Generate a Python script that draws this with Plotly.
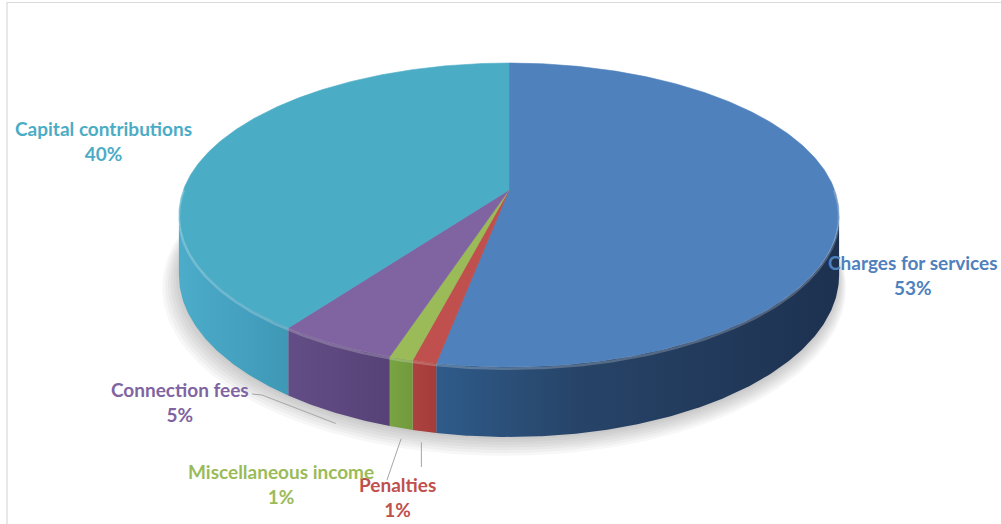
import numpy as np
import plotly.graph_objects as go

# ---- data -------------------------------------------------------------
categories = ["Charges for services", "Penalties", "Miscellaneous income",
              "Connection fees", "Capital contributions"]
shares = [53, 1, 1, 5, 40]          # percent of total revenue

top_colors = ["#4f81bd", "#c0504d", "#9bbb59", "#8064a2", "#4bacc6"]
side_scales = [
    [[0, "#2f5b8a"], [0.35, "#274468"], [1, "#1d3150"]],
    [[0, "#ad423f"], [1, "#a53c39"]],
    [[0, "#7aa343"], [1, "#719a3c"]],
    [[0, "#634d86"], [1, "#574277"]],
    [[0, "#4cacca"], [1, "#3e98b6"]],
]
label_colors = ["#4f81bd", "#c0504d", "#9bbb59", "#8064a2", "#4bacc6"]

# label anchor positions (pixels) and leader lines on/off
label_pos = [(913, 275), (397, 497), (281, 484), (180, 402), (103, 141)]
has_leader = [False, True, True, True, False]

# ---- perspective geometry of the tilted pie ---------------------------
W, H = 1001, 524
CX, CY = 509.0, 190.0     # pie centre on screen
A = 325.6                 # horizontal scale of the rim
Q = 116.6                 # depth scale of the rim
K = -0.1645               # perspective factor
T = 58.5                  # thickness of the pie


def rim(phi_deg, drop=0.0, grow=1.0):
    """Screen position of a rim point at angle phi (clockwise from 12 o'clock)."""
    p = np.radians(phi_deg)
    z = -np.cos(p)
    den = 1 + K * z
    x = CX + grow * A * np.sin(p) / den
    y = (CY + grow * Q * z + drop) / den
    return x, y


fig = go.Figure()

# soft drop shadow under the pie
full = np.linspace(0, 360, 361)
for i in range(7):
    sx, sy = rim(full, drop=T + 2 + i * 1.6, grow=1.0 + i * 0.006)
    fig.add_trace(go.Scatter(x=sx - i * 0.8, y=sy, mode="lines", fill="toself",
                             fillcolor="rgba(0,0,0,0.03)", line=dict(width=0),
                             hoverinfo="skip", showlegend=False))

# slice angle boundaries (clockwise from 12 o'clock)
bounds = np.concatenate([[0], np.cumsum(shares)]) / sum(shares) * 360
phi_r = np.degrees(np.arccos(K))
phi_l = 360 - phi_r

# side walls (front half only)
for i, cat in enumerate(categories):
    a0, a1 = max(bounds[i], phi_r), min(bounds[i + 1], phi_l)
    if a1 <= a0:
        continue
    ph = np.linspace(a0, a1, max(int((a1 - a0) * 2), 4))
    tx, ty = rim(ph)
    bx, by = rim(ph[::-1], drop=T)
    fig.add_trace(go.Scatter(
        x=np.concatenate([tx, bx, tx[:1]]), y=np.concatenate([ty, by, ty[:1]]),
        mode="lines", fill="toself", line=dict(width=0),
        fillgradient=dict(type="horizontal", colorscale=side_scales[i]),
        hoverinfo="skip", showlegend=False))

# top faces
for i, cat in enumerate(categories):
    ph = np.linspace(bounds[i], bounds[i + 1], max(int((bounds[i + 1] - bounds[i]) * 2), 4))
    rx, ry = rim(ph)
    fig.add_trace(go.Scatter(
        x=np.concatenate([[CX], rx, [CX]]), y=np.concatenate([[CY], ry, [CY]]),
        mode="lines", fill="toself", fillcolor=top_colors[i],
        line=dict(width=0.6, color=top_colors[i]),
        name=cat, hoverinfo="name", showlegend=False))

# bevel highlight along the front rim
ph = np.linspace(phi_r - 10, phi_l + 10, 300)
hx, hy = rim(ph, drop=1.5)
fig.add_trace(go.Scatter(x=hx, y=hy, mode="lines",
                         line=dict(width=2.5, color="rgba(255,255,255,0.22)"),
                         hoverinfo="skip", showlegend=False))

# leader lines from the slice rims to their labels
for i, cat in enumerate(categories):
    if not has_leader[i]:
        continue
    mid = (bounds[i] + bounds[i + 1]) / 2
    ex, ey = rim(mid, drop=T + 9)
    lx, ly = label_pos[i]
    if cat == "Connection fees":
        xs, ys = [ex, lx + 82, lx + 72], [ey, ly - 7, ly - 8]
    elif cat == "Penalties":
        xs, ys = [ex - 3, ex - 3], [ey, ly - 30]
    else:
        xs, ys = [ex, lx + 106], [ey, ly - 4]
    fig.add_trace(go.Scatter(x=xs, y=ys, mode="lines",
                             line=dict(width=1, color="#a6a6a6"),
                             hoverinfo="skip", showlegend=False))

# data labels
for i, cat in enumerate(categories):
    lx, ly = label_pos[i]
    fig.add_annotation(x=lx, y=ly, xref="x", yref="y", showarrow=False,
                       text=f"<b>{cat}<br>{shares[i]}%</b>", align="center",
                       font=dict(family="Lato", size=19, color=label_colors[i]))

# chart frame
fig.add_shape(type="rect", xref="x", yref="y", x0=7, y0=2.5, x1=1010, y1=540,
              line=dict(color="#d9d9d9", width=1.2), layer="below")

fig.update_layout(
    width=W, height=H, margin=dict(l=0, r=0, t=0, b=0),
    paper_bgcolor="white", plot_bgcolor="white",
    xaxis=dict(range=[0, W], visible=False, fixedrange=True),
    yaxis=dict(range=[H, 0], visible=False, fixedrange=True),
    showlegend=False,
)

fig.write_html("out.html")
